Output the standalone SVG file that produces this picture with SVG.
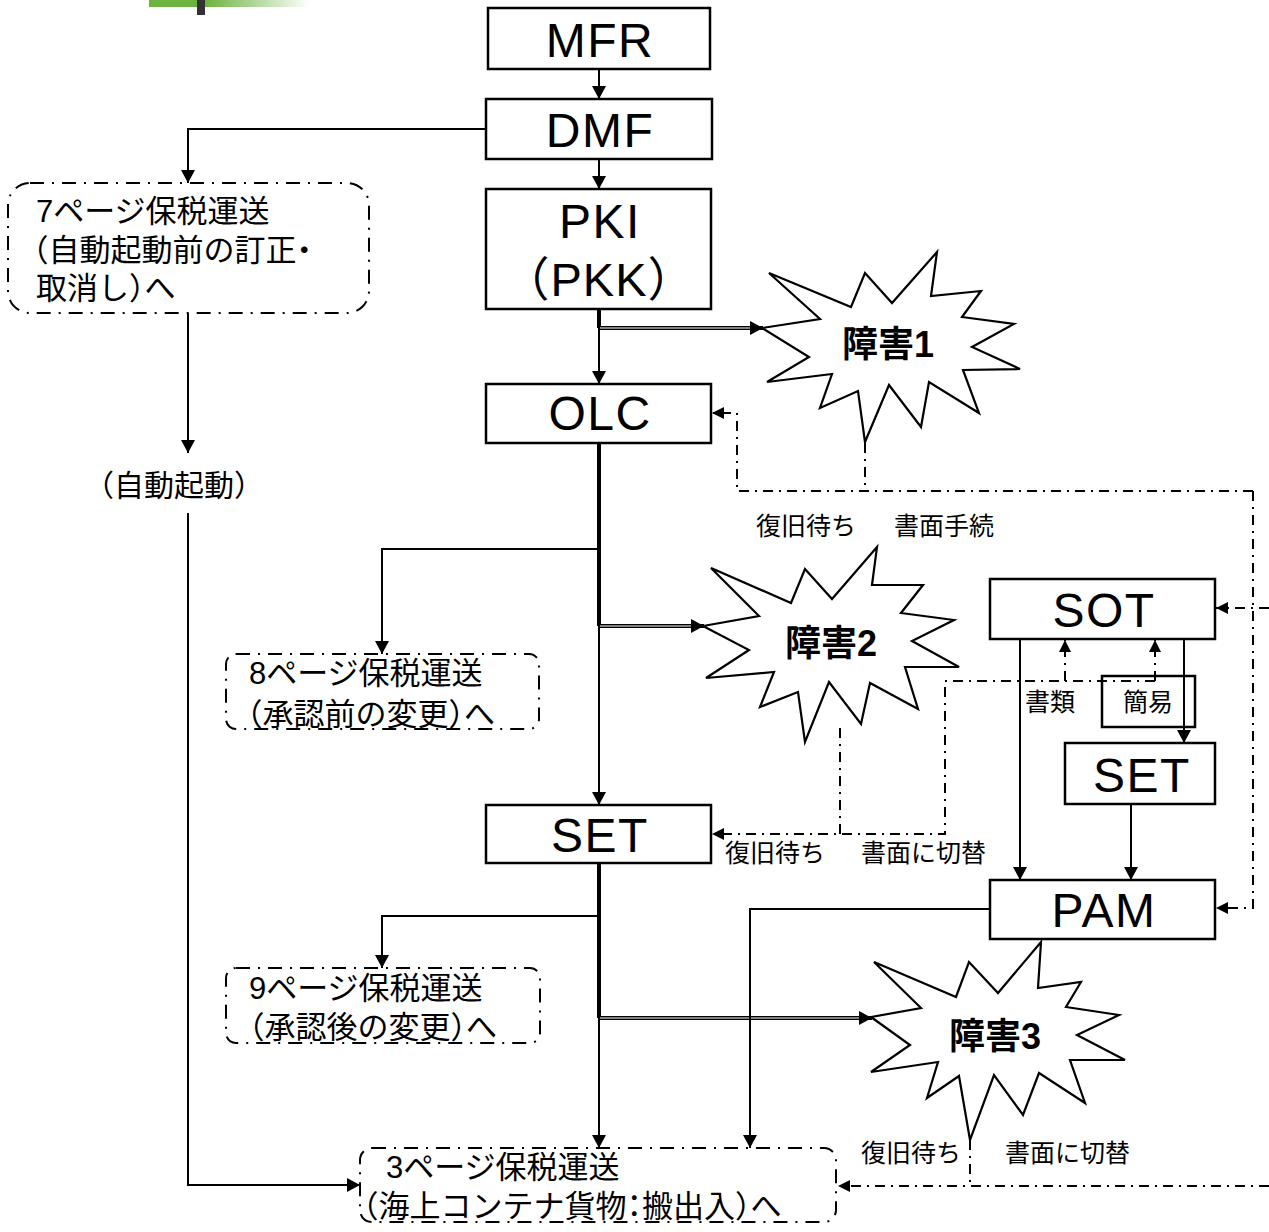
<svg xmlns="http://www.w3.org/2000/svg" width="1269" height="1232" viewBox="0 0 1269 1232">
<defs>
<linearGradient id="gbar" x1="0" y1="0" x2="1" y2="0">
<stop offset="0" stop-color="#6db33f"/>
<stop offset="0.35" stop-color="#6db33f"/>
<stop offset="1" stop-color="#ffffff"/>
</linearGradient>
<marker id="arr" markerUnits="userSpaceOnUse" markerWidth="14" markerHeight="14" refX="13" refY="7" orient="auto">
<path d="M0,0 L13,7 L0,14 z" fill="#000"/>
</marker>
<marker id="arrs" markerUnits="userSpaceOnUse" markerWidth="13" markerHeight="12" refX="12" refY="6" orient="auto">
<path d="M0,0 L12,6 L0,12 z" fill="#000"/>
</marker>
</defs>
<style>
.box{fill:#fff;stroke:#000;stroke-width:2.5}
.dbox{fill:#fff;stroke:#000;stroke-width:2;stroke-dasharray:14 8 2 8}
.burst{fill:#fff;stroke:#000;stroke-width:2.2;stroke-linejoin:miter}
.lbl{font-family:"Liberation Sans",Arial,sans-serif;font-size:48px;letter-spacing:1.5px;text-anchor:middle;fill:#000}
.pk{font-family:"Liberation Sans","Noto Sans CJK JP",sans-serif;font-size:47px;letter-spacing:1px;text-anchor:middle;fill:#000;font-feature-settings:"halt"}
.jp{font-family:"Liberation Sans","Noto Sans CJK JP",sans-serif;font-size:31px;fill:#000;font-feature-settings:"halt"}
.sm{font-family:"Liberation Sans","Noto Sans CJK JP",sans-serif;font-size:25px;fill:#000}
.bt{font-family:"Liberation Sans","Noto Sans CJK JP",sans-serif;font-size:36px;font-weight:bold;text-anchor:middle;fill:#000}
.ln{fill:none;stroke:#000;stroke-width:2}
.thick{fill:none;stroke:#000;stroke-width:4}
.dd{fill:none;stroke:#000;stroke-width:2;stroke-dasharray:10 6 2 6}
.dblw{fill:none;stroke:#fff;stroke-width:1.2}
</style>

<g id="decor">
<rect x="149" y="0" width="161" height="7" fill="url(#gbar)"/>
<rect x="197" y="0" width="8" height="15" fill="#333"/>
</g>

<g id="connectors">
<line class="ln" x1="599" y1="69" x2="599" y2="99" marker-end="url(#arr)"/>
<line class="ln" x1="599" y1="159" x2="599" y2="189" marker-end="url(#arr)"/>
<polyline class="ln" points="486,129 188,129 188,183" marker-end="url(#arr)"/>
<line class="ln" x1="188" y1="313" x2="188" y2="453" marker-end="url(#arr)"/>
<polyline class="ln" points="188,513 188,1185 360,1185" marker-end="url(#arr)"/>
<line class="thick" x1="599" y1="309" x2="599" y2="328"/>
<line class="ln" x1="599" y1="328" x2="599" y2="384" marker-end="url(#arr)"/>
<line class="thick" x1="599" y1="328" x2="763" y2="328" marker-end="url(#arr)"/>
<line class="dblw" x1="600" y1="328" x2="750" y2="328"/>
<line class="dd" x1="865" y1="443" x2="865" y2="491"/>
<polyline class="dd" points="1253,491 737,491 737,413 712,413" marker-end="url(#arrs)"/>
<polyline class="dd" points="1253,491 1253,908 1216,908" marker-end="url(#arrs)"/>
<line class="dd" x1="1269" y1="608" x2="1216" y2="608" marker-end="url(#arrs)"/>
<line class="thick" x1="599" y1="443" x2="599" y2="626"/>
<line class="ln" x1="599" y1="626" x2="599" y2="805" marker-end="url(#arr)"/>
<polyline class="ln" points="599,549 382,549 382,654" marker-end="url(#arr)"/>
<line class="thick" x1="599" y1="626" x2="704" y2="626" marker-end="url(#arr)"/>
<line class="dblw" x1="600" y1="626" x2="691" y2="626"/>
<line class="dd" x1="840" y1="728" x2="840" y2="834"/>
<polyline class="dd" points="1155,681 945,681 945,834 712,834" marker-end="url(#arrs)"/>
<line class="dd" x1="1065" y1="681" x2="1065" y2="640" marker-end="url(#arrs)"/>
<line class="dd" x1="1155" y1="681" x2="1155" y2="640" marker-end="url(#arrs)"/>
<line class="ln" x1="1020" y1="639" x2="1020" y2="880" marker-end="url(#arr)"/>
<line class="ln" x1="1184" y1="639" x2="1184" y2="743" marker-end="url(#arr)"/>
<line class="ln" x1="1131" y1="804" x2="1131" y2="880" marker-end="url(#arr)"/>
<line class="thick" x1="599" y1="863" x2="599" y2="1018"/>
<line class="ln" x1="599" y1="1018" x2="599" y2="1148" marker-end="url(#arr)"/>
<polyline class="ln" points="599,916 382,916 382,968" marker-end="url(#arr)"/>
<line class="thick" x1="599" y1="1018" x2="872" y2="1018" marker-end="url(#arr)"/>
<line class="dblw" x1="600" y1="1018" x2="859" y2="1018"/>
<polyline class="ln" points="990,909 750,909 750,1148" marker-end="url(#arr)"/>
<line class="dd" x1="970" y1="1140" x2="970" y2="1186"/>
<line class="dd" x1="1269" y1="1186" x2="838" y2="1186" marker-end="url(#arrs)"/>
</g>

<g id="MFR"><rect class="box" x="488" y="8" width="222" height="61"/><text class="lbl" x="600" y="57">MFR</text></g>
<g id="DMF"><rect class="box" x="486" y="99" width="226" height="60"/><text class="lbl" x="600" y="147">DMF</text></g>
<g id="PKI"><rect class="box" x="486" y="189" width="225" height="120"/><text class="lbl" x="600" y="238">PKI</text><text class="pk" x="599" y="296">（PKK）</text></g>
<g id="OLC"><rect class="box" x="486" y="384" width="225" height="59"/><text class="lbl" x="600" y="430">OLC</text></g>
<g id="SET1"><rect class="box" x="486" y="805" width="225" height="58"/><text class="lbl" x="600" y="852">SET</text></g>
<g id="SOT"><rect class="box" x="990" y="579" width="225" height="60"/><text class="lbl" x="1104" y="627">SOT</text></g>
<g id="SET2"><rect class="box" x="1065" y="743" width="150" height="61"/><text class="lbl" x="1142" y="792">SET</text></g>
<g id="PAM"><rect class="box" x="990" y="880" width="225" height="59"/><text class="lbl" x="1104" y="927">PAM</text></g>
<g id="kan"><rect x="1102" y="676" width="93" height="51" fill="none" stroke="#000" stroke-width="2.5"/><text class="sm" x="1123" y="711">簡易</text></g>
<g id="shorui"><text class="sm" x="1025" y="711">書類</text></g>

<g id="p7"><rect class="dbox" x="8" y="183" width="361" height="130" rx="22"/>
<text class="jp" x="36" y="222">7ページ保税運送</text>
<text class="jp" x="33" y="261">（自動起動前の訂正・</text>
<text class="jp" x="36" y="299">取消し）へ</text></g>
<g id="auto"><text class="jp" x="99" y="496" style="font-size:30px">（自動起動）</text></g>
<g id="p8"><rect class="dbox" x="226" y="654" width="313" height="75" rx="10"/>
<text class="jp" x="249" y="684">8ページ保税運送</text>
<text class="jp" x="247" y="725">（承認前の変更）へ</text></g>
<g id="p9"><rect class="dbox" x="226" y="968" width="314" height="75" rx="10"/>
<text class="jp" x="249" y="999">9ページ保税運送</text>
<text class="jp" x="249" y="1038">（承認後の変更）へ</text></g>
<g id="p3"><rect class="dbox" x="360" y="1148" width="476" height="74" rx="12"/>
<text class="jp" x="386" y="1178">3ページ保税運送</text>
<text class="jp" x="363" y="1217">（海上コンテナ貨物：搬出入）へ</text></g>

<g id="burst1"><polygon class="burst" points="762,328 820,319 769,273 851,307 865,273 892,303 937,252 931,296 981,291 962,317 1014,324 972,347 1020,369 963,370 979,413 929,382 921,427 889,385 865,442 858,391 820,408 832,374 767,382 809,357"/><text class="bt" x="888" y="357">障害1</text></g>
<g id="burst2"><polygon class="burst" points="703,626 759,616 711,568 791,603 805,569 832,599 877,547 872,585 923,585 901,613 954,620 912,641 959,667 905,667 918,709 870,683 861,724 829,682 805,742 798,692 760,707 774,672 706,678 749,650"/><text class="bt" x="831" y="656">障害2</text></g>
<g id="burst3"><polygon class="burst" points="871,1017 921,1008 874,962 956,997 969,962 998,993 1041,942 1038,988 1081,982 1066,1007 1119,1015 1077,1035 1125,1060 1070,1060 1085,1103 1039,1073 1023,1115 994,1075 970,1140 959,1076 927,1098 938,1062 871,1072 910,1045"/><text class="bt" x="995" y="1049">障害3</text></g>

<g id="notes">
<text class="sm" x="756" y="535">復旧待ち</text>
<text class="sm" x="894" y="535">書面手続</text>
<text class="sm" x="725" y="862">復旧待ち</text>
<text class="sm" x="861" y="862">書面に切替</text>
<text class="sm" x="861" y="1162">復旧待ち</text>
<text class="sm" x="1005" y="1162">書面に切替</text>
</g>
</svg>
